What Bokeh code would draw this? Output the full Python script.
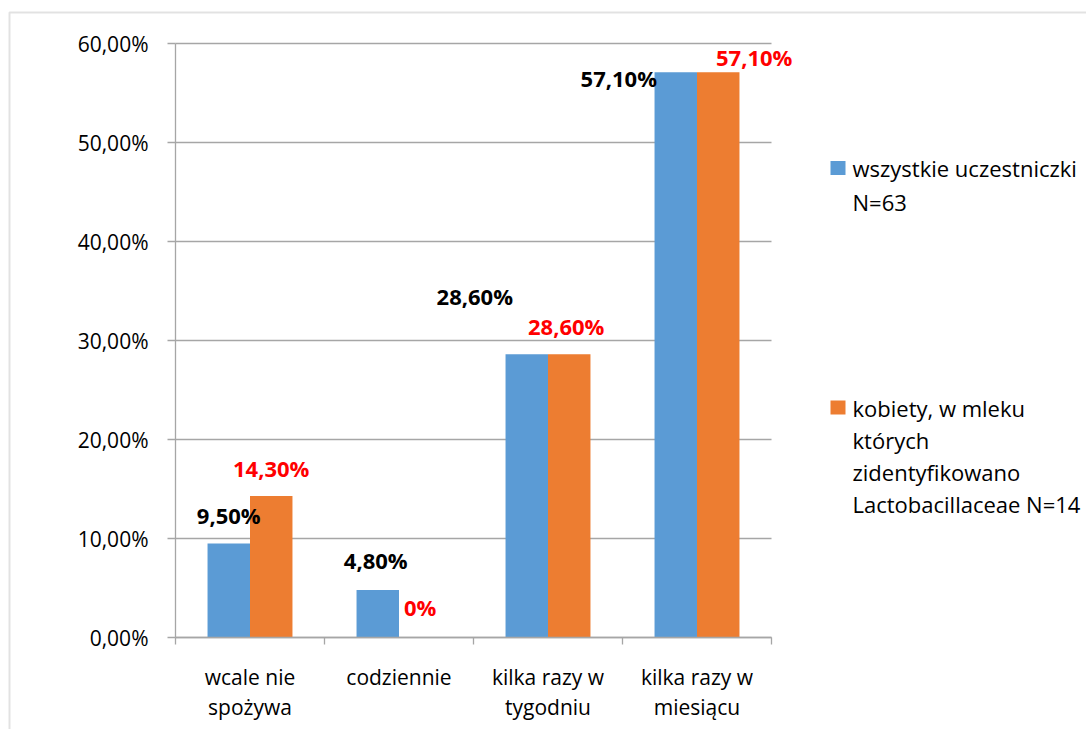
from bokeh.plotting import figure
from bokeh.models import Range1d, FixedTicker, ColumnDataSource, LabelSet, Label, BoxAnnotation
from bokeh.transform import dodge
from bokeh.core.properties import value
from bokeh.embed import file_html
from bokeh.resources import INLINE

# ---- data ----
categories = ["wcale nie\nspożywa", "codziennie", "kilka razy w\ntygodniu", "kilka razy w\nmiesiącu"]
series_names = ["wszystkie uczestniczki\nN=63",
                "kobiety, w mleku\nktórych\nzidentyfikowano\nLactobacillaceae N=14"]
all_participants = [9.5, 4.8, 28.6, 57.1]
lacto_women = [14.3, 0.0, 28.6, 57.1]
all_labels = ["9,50%", "4,80%", "28,60%", "57,10%"]
lacto_labels = ["14,30%", "0%", "28,60%", "57,10%"]
y_ticks = [0, 10, 20, 30, 40, 50, 60]
y_tick_labels = ["0,00%", "10,00%", "20,00%", "30,00%", "40,00%", "50,00%", "60,00%"]

# ---- style / placement ----
W, H = 1086, 729
colors = ["#5B9BD5", "#ED7D31"]
label_colors = ["#000000", "#FF0000"]
all_dx = [0, -2, -52, -57]
all_dy = [28, 30, 58, -6]
lacto_dx = [0, 0, -3, 36]
lacto_dy = [28, 31, 28, 15]
FONT = "Open Sans"
GRAY = "#A6A6A6"
bar_w = 0.285

# pixel layout of the plot area inside the full-canvas frame
PX_LEFT, PX_RIGHT, PX_TOP, PX_BOTTOM = 175, 771, 43, 637
n_cat = len(categories)
y_max = y_ticks[-1]
ppx = (PX_RIGHT - PX_LEFT) / n_cat
ppy = (PX_BOTTOM - PX_TOP) / y_max
x_range = Range1d(-PX_LEFT / ppx, n_cat + (W - PX_RIGHT) / ppx)
y_range = Range1d(-(H - PX_BOTTOM) / ppy, y_max + PX_TOP / ppy)

positions = [i + 0.5 for i in range(n_cat)]
src = ColumnDataSource(dict(
    x=positions, a=all_participants, b=lacto_women,
    a_lbl=all_labels, b_lbl=lacto_labels,
    a_dx=all_dx, a_dy=all_dy, b_dx=lacto_dx, b_dy=lacto_dy,
))

p = figure(width=W, height=H, x_range=x_range, y_range=y_range, title=None,
           output_backend="svg", toolbar_location=None,
           min_border=0, min_border_left=0, min_border_right=0, min_border_top=0, min_border_bottom=0)
p.outline_line_color = None
p.background_fill_color = "white"
p.border_fill_color = "white"

# grid
p.xgrid.visible = False
p.ygrid.ticker = FixedTicker(ticks=y_ticks)
p.ygrid.grid_line_color = GRAY
p.ygrid.grid_line_width = 1.3
p.ygrid.bounds = (0, y_max)
try:
    p.ygrid[0].cross_bounds = (0, n_cat)
except AttributeError:
    pass

p.vbar(x=dodge("x", -bar_w / 2), top="a", width=bar_w, bottom=0, source=src,
       fill_color=colors[0], line_color=None)
p.vbar(x=dodge("x", bar_w / 2), top="b", width=bar_w, bottom=0, source=src,
       fill_color=colors[1], line_color=None)

# axes (drawn inside the frame at fixed locations)
p.yaxis.fixed_location = 0
p.yaxis.bounds = (0, y_max)
p.yaxis.ticker = FixedTicker(ticks=y_ticks, minor_ticks=[])
p.yaxis.major_label_overrides = {t: l for t, l in zip(y_ticks, y_tick_labels)}
p.yaxis.axis_line_color = GRAY
p.yaxis.axis_line_width = 1.3
p.yaxis.major_tick_line_color = GRAY
p.yaxis.major_tick_line_width = 1.3
p.yaxis.major_tick_out = 8
p.yaxis.major_tick_in = 0
p.yaxis.minor_tick_line_color = None
p.yaxis.major_label_text_font = FONT
p.yaxis.major_label_text_font_size = "21px"
p.yaxis.major_label_text_color = "#000000"
p.yaxis.major_label_standoff = 19

p.xaxis.fixed_location = 0
p.xaxis.bounds = (0, n_cat)
p.xaxis.ticker = FixedTicker(ticks=positions, minor_ticks=list(range(n_cat + 1)))
p.xaxis.major_label_overrides = {x: c for x, c in zip(positions, categories)}
p.xaxis.axis_line_color = GRAY
p.xaxis.axis_line_width = 1.3
p.xaxis.major_tick_line_color = None
p.xaxis.major_tick_out = 0
p.xaxis.major_tick_in = 0
p.xaxis.minor_tick_line_color = GRAY
p.xaxis.minor_tick_line_width = 1.3
p.xaxis.minor_tick_out = 7
p.xaxis.minor_tick_in = 0
p.xaxis.major_label_text_font = FONT
p.xaxis.major_label_text_font_size = "21px"
p.xaxis.major_label_text_color = "#000000"
p.xaxis.major_label_text_line_height = 1.08
p.xaxis.major_label_standoff = 18

# data labels
for fx, ycol, tcol, dxcol, dycol, c in [(-bar_w / 2, "a", "a_lbl", "a_dx", "a_dy", label_colors[0]),
                                         (bar_w / 2, "b", "b_lbl", "b_dx", "b_dy", label_colors[1])]:
    p.add_layout(LabelSet(x=dodge("x", fx), y=ycol, text=tcol, x_offset=dxcol, y_offset=dycol,
                          source=src, text_align="center", text_baseline="middle",
                          text_font=value(FONT), text_font_style="bold", text_font_size="22px",
                          text_color=c))

# legend (screen units; frame == whole canvas, origin bottom-left)
legend_first_line_y = [167.5, 407]
legend_line_step = [34, 32]
for name, col, y0, step in zip(series_names, colors, legend_first_line_y, legend_line_step):
    p.add_layout(BoxAnnotation(left=830, right=845, top=H - (y0 - 7), bottom=H - (y0 + 7),
                               left_units="screen", right_units="screen",
                               top_units="screen", bottom_units="screen",
                               fill_color=col, fill_alpha=1, line_color=None))
    for k, line in enumerate(name.split("\n")):
        p.add_layout(Label(x=852, y=H - (y0 + k * step), x_units="screen", y_units="screen",
                           text=line, text_align="left", text_baseline="middle",
                           text_font=FONT, text_font_size="22px", text_color="#000000"))

# outer chart border (right and bottom edges fall outside the window)
p.add_layout(BoxAnnotation(left=9, right=5000, top=H - 12, bottom=-5000,
                           left_units="screen", right_units="screen",
                           top_units="screen", bottom_units="screen",
                           fill_color=None, fill_alpha=0, line_color="#A0A0A0", line_width=2))

open("out.html", "w").write(file_html(p, INLINE))
